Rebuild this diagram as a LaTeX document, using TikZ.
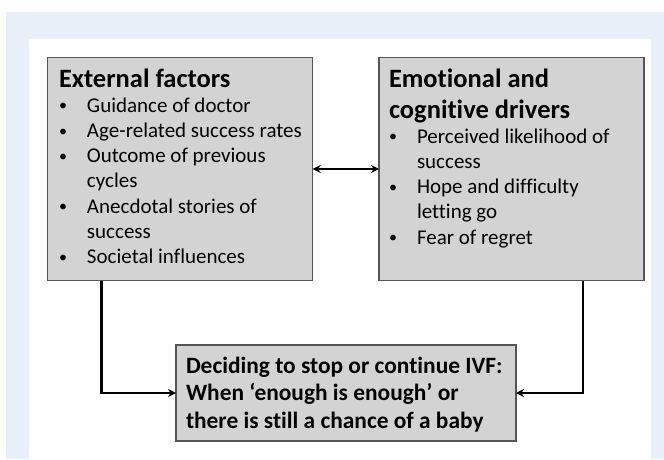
\documentclass[tikz,border=0pt]{standalone}
\usepackage{fontspec}
\setmainfont{Carlito}[Ligatures=NoCommon]
\usetikzlibrary{arrows.meta}
\definecolor{bgblue}{RGB}{232,239,248}
\definecolor{boxgray}{RGB}{211,211,211}
\definecolor{boxline}{RGB}{85,85,85}
\newcommand{\bitem}[1]{\par\hangindent=28pt\hangafter=1\noindent\makebox[28pt][l]{\raisebox{1.3pt}{\fontsize{16}{16}\selectfont\textbullet}}#1}
\newcommand{\boxtitle}[1]{{\fontsize{26.5}{31}\selectfont\bfseries #1\par}}
\tikzset{
  box/.style={draw=boxline, line width=1.2pt, fill=boxgray, rectangle, inner sep=0pt, outer sep=0pt, anchor=north west},
  txt/.style={inner sep=0pt, outer sep=0pt, anchor=base west, align=left},
  conn/.style={line width=2.8pt, -{Stealth[length=8pt,width=8pt]}},
  dbl/.style={line width=2.2pt, {Stealth[length=8pt,width=8pt]}-{Stealth[length=8pt,width=8pt]}}
}
\begin{document}
\begin{tikzpicture}[x=1pt,y=-1pt]
\useasboundingbox (0,0) rectangle (664,459);
\fill[bgblue] (6,12) rectangle (664,459);
\fill[white] (29,39) rectangle (651,459);
\node[box, minimum width=265pt, minimum height=223.4pt] (L) at (47.7,57.3) {};
\node[box, minimum width=265pt, minimum height=223.4pt] (R) at (379,57.3) {};
\node[box, minimum width=340pt, minimum height=96pt] (B) at (176,345) {};
\node[txt] (Ltxt) at (59,87) {\parbox[t]{250pt}{\raggedright\fontsize{21}{25.2}\selectfont
  \boxtitle{External factors}%
  \bitem{Guidance of doctor}%
  \bitem{Age-related success rates}%
  \bitem{Outcome of previous\newline cycles}%
  \bitem{Anecdotal stories of\newline success}%
  \bitem{Societal influences}}};
\node[txt] (Rtxt) at (389,87) {\parbox[t]{250pt}{\raggedright\fontsize{21}{25.2}\selectfont
  \boxtitle{Emotional and\newline cognitive drivers}%
  \bitem{Perceived likelihood of\newline success}%
  \bitem{Hope and difficulty\newline letting go}%
  \bitem{Fear of regret}}};
\node[txt] (Btxt) at (186,373) {\parbox[t]{330pt}{\raggedright\fontsize{23.4}{27.5}\selectfont\bfseries
  Deciding to stop or continue IVF:\newline When ‘enough is enough’ or\newline there is still a chance of a baby}};
\draw[dbl] (L.east) -- (R.west);
\draw[conn] ([xshift=54pt]L.south west) |- (B.west);
\draw[conn] ([xshift=-61pt]R.south east) |- (B.east);
\end{tikzpicture}
\end{document}
